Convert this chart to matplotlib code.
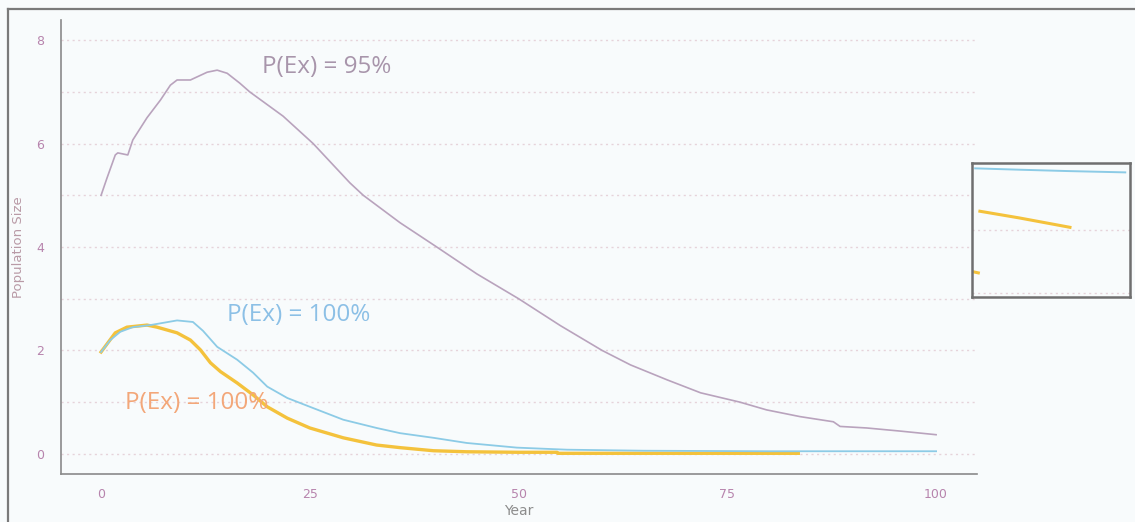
import matplotlib
matplotlib.use("Agg")
import matplotlib.pyplot as plt
from matplotlib.lines import Line2D
from matplotlib.ticker import MultipleLocator

# Mean population trajectories (years 0-100)
years_95 = [0, 0.7, 1.7, 2.0, 3.2, 3.8, 5.5, 7.1, 8.3, 9.1, 10.7, 12.7, 13.9, 15.1,
            16.6, 17.8, 21.8, 25.4, 29.8, 31.4, 35.8, 40.2, 45.0, 50.0, 55.0,
            60.0, 63.4, 67.8, 71.8, 76.5, 79.7, 83.7, 87.7, 88.5, 91.7, 95.7, 100]
pop_95 = [5.0, 5.33, 5.78, 5.82, 5.78, 6.07, 6.5, 6.84, 7.13, 7.23, 7.23, 7.38, 7.42, 7.36,
          7.17, 7.0, 6.53, 6.0, 5.24, 5.0, 4.47, 4.0, 3.48, 3.0, 2.48,
          2.0, 1.72, 1.43, 1.18, 1.0, 0.85, 0.72, 0.62, 0.53, 0.50, 0.44, 0.37]

years_blue = [0, 1.1, 2.3, 3.8, 5.9, 9.1, 11.0, 12.2, 13.9, 16.3, 18.2, 19.9, 22.3, 25.0,
              29.0, 33.0, 35.8, 39.8, 43.8, 49.8, 55.8, 65.0, 80.0, 100]
pop_blue = [1.97, 2.2, 2.36, 2.45, 2.49, 2.58, 2.55, 2.38, 2.07, 1.82, 1.57, 1.30, 1.08, 0.91,
            0.66, 0.50, 0.40, 0.31, 0.21, 0.12, 0.08, 0.06, 0.05, 0.05]

years_orange = [0, 1.7, 3.1, 5.5, 6.7, 9.1, 10.7, 11.9, 13.1, 14.3, 16.3, 18.2, 19.9, 22.3,
                25.0, 29.0, 33.0, 35.8, 39.8, 43.8, 50.0, 54.6, 54.7, 70.0, 83.5]
pop_orange = [1.97, 2.34, 2.45, 2.49, 2.45, 2.34, 2.2, 2.01, 1.76, 1.59, 1.37, 1.14, 0.91, 0.69,
              0.50, 0.31, 0.17, 0.12, 0.06, 0.04, 0.03, 0.03, 0.01, 0.01, 0.01]

x_ticks = [0, 25, 50, 75, 100]
y_ticks = [0, 2, 4, 6, 8]
labels = ["P(Ex) = 95%", "P(Ex) = 100%", "P(Ex) = 100%"]

# Detail panel traces
inset_x_blue = [0.02, 0.3, 0.6, 0.97]
inset_y_blue = [0.96, 0.95, 0.94, 0.93]
inset_x_orange = [0.05, 0.3, 0.62]
inset_y_orange = [0.64, 0.59, 0.52]
inset_x_stub = [0.0, 0.04]
inset_y_stub = [0.19, 0.18]

purple = "#b9a3bd"
blue = "#8ccbe6"
gold = "#f4c23c"
bg = "#f8fbfc"
tick_col = "#b784ad"
grid_col = "#e6d3da"

fig = plt.figure(figsize=(11.35, 5.22), dpi=100, facecolor=bg)
ax = fig.add_axes([61/1135, 1-474/522, (977-61)/1135, (474-20)/522])
ax.set_facecolor(bg)

ax.plot(years_95, pop_95, color=purple, lw=1.2, zorder=3)
ax.plot(years_orange, pop_orange, color=gold, lw=2.4, zorder=3)
ax.plot(years_blue, pop_blue, color=blue, lw=1.3, zorder=4)

ax.set_xlim(-4.8, 104.9)
ax.set_ylim(-0.39, 8.39)
ax.set_xticks(x_ticks)
ax.set_yticks(y_ticks)
ax.yaxis.set_minor_locator(MultipleLocator(1))
ax.grid(True, which="both", axis="y", color=grid_col, ls=(0, (1.5, 2.5)), lw=1.0)
ax.tick_params(which="both", length=0)
ax.tick_params(axis="x", colors=tick_col, labelsize=9, pad=10)
ax.tick_params(axis="y", colors=tick_col, labelsize=9, pad=12)
for s in ["top", "right"]:
    ax.spines[s].set_visible(False)
for s in ["left", "bottom"]:
    ax.spines[s].set_color("#8a8a8a")
    ax.spines[s].set_linewidth(1.2)

ax.set_xlabel("Year", color="#8c8c8c", fontsize=10, labelpad=2)
ax.set_ylabel("Population Size", color="#b99aa6", fontsize=9.5, labelpad=8)

ax.text(19.3, 7.48, labels[0], color="#a895ab", fontsize=17.5, family="Open Sans", va="center")
ax.text(15.1, 2.69, labels[1], color="#8cc0e6", fontsize=17.5, family="Open Sans", va="center")
ax.text(2.9, 0.99, labels[2], color="#f3a779", fontsize=17.5, family="Open Sans", va="center", zorder=5)

# Detail panel on the right
ins = fig.add_axes([972/1135, 1-297/522, (1130-972)/1135, (297-163)/522])
ins.set_facecolor(bg)
ins.set_xlim(0, 1)
ins.set_ylim(0, 1)
ins.set_xticks([])
ins.set_yticks([])
for s in ins.spines.values():
    s.set_color("#6f6f6f")
    s.set_linewidth(1.8)
for yy in [0.5, 0.03]:
    ins.axhline(yy, color=grid_col, ls=(0, (1.5, 2.5)), lw=1.0)
ins.plot(inset_x_blue, inset_y_blue, color=blue, lw=1.4)
ins.plot(inset_x_orange, inset_y_orange, color=gold, lw=2.2)
ins.plot(inset_x_stub, inset_y_stub, color=gold, lw=2.2)

# Outer frame lines
fig.add_artist(Line2D([8/1135, 8/1135], [0, 1-9/522], color="#7a7a7a", lw=1.6))
fig.add_artist(Line2D([8/1135, 1.0], [1-9/522, 1-9/522], color="#7a7a7a", lw=1.6))

fig.savefig("out.png", dpi=100, facecolor=bg)
